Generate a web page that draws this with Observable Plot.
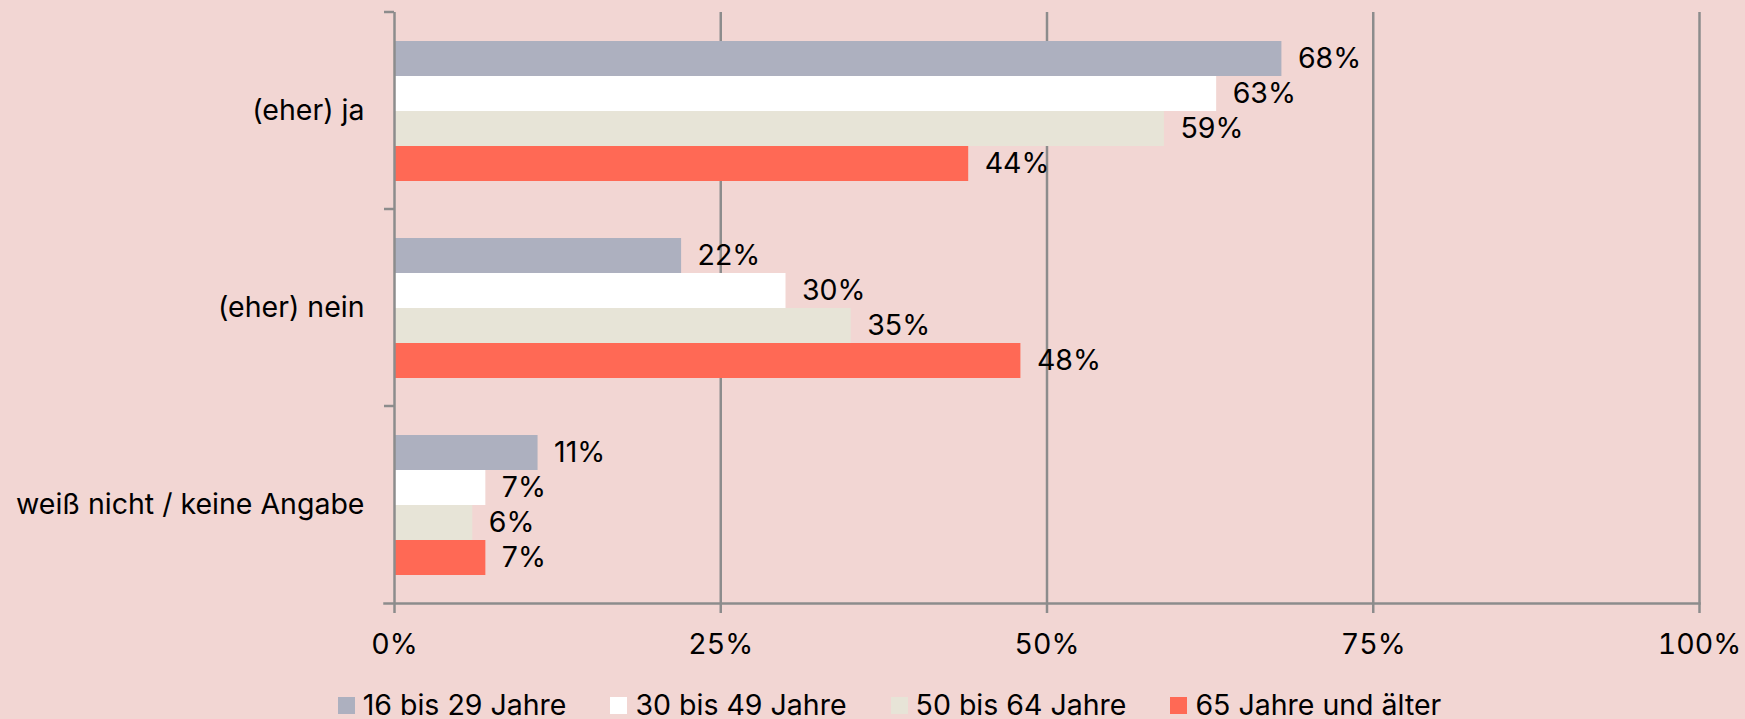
<!DOCTYPE html>
<html>
<head>
<meta charset="utf-8">
<script src="https://cdn.jsdelivr.net/npm/d3@7"></script>
<script src="https://cdn.jsdelivr.net/npm/@observablehq/plot@0.6"></script>
<style>
  html, body { margin: 0; padding: 0; background: #F2D6D3; }
  body { width: 1745px; height: 719px; overflow: hidden; font-family: "Inter", sans-serif; }
  #chart svg { display: block; }
  #legend { display: flex; justify-content: center; align-items: center; gap: 44px; margin-top: 24px; height: 26px; font-size: 28.5px; line-height: 26px; color: #000; padding-left: 34px; box-sizing: border-box; width: 1745px; }
  .item { display: flex; align-items: center; gap: 8px; }
  .sw { width: 17px; height: 17px; display: inline-block; }
</style>
</head>
<body>
<div id="chart"></div>
<div id="legend"></div>
<script>
const categories = ["(eher) ja", "(eher) nein", "weiß nicht / keine Angabe"];
const series = ["16 bis 29 Jahre", "30 bis 49 Jahre", "50 bis 64 Jahre", "65 Jahre und älter"];
const colors = ["#ADB0BF", "#FFFFFF", "#E7E4D7", "#FF6955"];
const v16_29 = [68, 22, 11];
const v30_49 = [63, 30, 7];
const v50_64 = [59, 35, 6];
const v65plus = [44, 48, 7];
const xTicks = [0, 25, 50, 75, 100];

const seriesValues = [v16_29, v30_49, v50_64, v65plus];
const data = categories.flatMap((c, i) => series.map((s, j) => ({cat: c, series: s, value: seriesValues[j][i]})));

const gridColor = "#8C8C8C";
const FONT = "'Inter', sans-serif";
const FS = 28.5;

const topTick = (index, scales, values, dims) => {
  const x0 = scales.x(0);
  const g = d3.create("svg:g");
  g.append("line")
    .attr("x1", x0 - 10).attr("x2", x0)
    .attr("y1", dims.marginTop).attr("y2", dims.marginTop)
    .attr("stroke", gridColor).attr("stroke-width", 2.5);
  return g.node();
};

const chart = Plot.plot({
  width: 1745,
  height: 668,
  marginLeft: 394,
  marginRight: 46,
  marginTop: 11,
  marginBottom: 65,
  style: {background: "transparent", fontFamily: FONT, fontSize: FS + "px", color: "#000"},
  x: {domain: [0, 100], label: null},
  fy: {domain: categories, padding: 0, label: null},
  y: {domain: series, paddingInner: 0, paddingOuter: 0.8, axis: null},
  color: {domain: series, range: colors},
  marks: [
    Plot.ruleX(xTicks.filter(d => d > 0), {stroke: gridColor, strokeWidth: 2.5}),
    Plot.barX(data, {x: "value", y: "series", fy: "cat", fill: "series"}),
    Plot.ruleX([0], {stroke: gridColor, strokeWidth: 2.5}),
    topTick,
    Plot.frame({anchor: "bottom", facetAnchor: "bottom", stroke: gridColor, strokeWidth: 2.5, insetLeft: -10}),
    Plot.text(data, {x: "value", y: "series", fy: "cat", text: d => d.value + "%", dx: 16, textAnchor: "start", fill: "#000", fontSize: FS}),
    Plot.axisX({ticks: xTicks, tickFormat: d => d + "%", tickSize: 10, tickPadding: 20, stroke: gridColor, strokeWidth: 2.5, fontSize: FS, label: null, fill: "#000"}),
    Plot.axisFy({anchor: "left", tickSize: 0, tickPadding: 30, fontSize: FS, label: null, fill: "#000"})
  ]
});
document.getElementById("chart").appendChild(chart);

const legend = d3.select("#legend");
series.forEach((s, i) => {
  const it = legend.append("div").attr("class", "item");
  it.append("span").attr("class", "sw").style("background", colors[i]);
  it.append("span").text(s);
});
</script>
</body>
</html>
